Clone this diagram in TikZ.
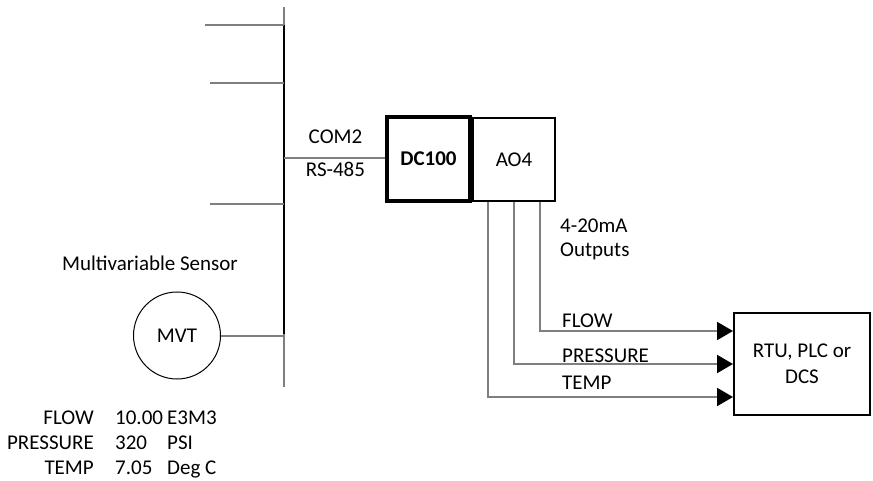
\documentclass[tikz,border=0pt]{standalone}
\usepackage{fontspec}
\setmainfont{Carlito}
\usetikzlibrary{arrows.meta}
\definecolor{wiregray}{HTML}{7F7F7F}
\tikzset{
  wire/.style={wiregray, line width=2pt},
  bus/.style={black, line width=2.5pt},
  box/.style={draw, line width=2pt, inner sep=0pt, align=center},
  lbl/.style={inner sep=0pt},
  sig/.style={wire, -{Triangle[length=16pt, width=18pt, color=black]}}
}
\begin{document}
\begin{tikzpicture}[x=1pt, y=-1pt, font=\fontsize{21}{26}\selectfont]
  \useasboundingbox (0,0) rectangle (873,481);
  \coordinate (bustop) at (284,7);
  \coordinate (busup) at (284,25);
  \coordinate (busdn) at (284,334);
  \coordinate (busbot) at (284,387);
  \coordinate (br1) at (205,25);
  \coordinate (br2) at (210,83);
  \coordinate (br3) at (210,204);
  \coordinate (comtap) at (284,158);
  \coordinate (tapF) at (540,331);
  \coordinate (tapP) at (514,364);
  \coordinate (tapT) at (488,397);
  \node[box, minimum width=82pt, minimum height=83pt] (ao) at (514,160) {AO4};
  \node[box, line width=4pt, minimum width=83pt, minimum height=84pt] (dc) at (428.5,159) {\bfseries DC100};
  \node[draw, circle, line width=1pt, minimum size=87pt, inner sep=0pt] (mvt) at (177,335.5) {MVT};
  \node[box, minimum width=136pt, minimum height=102pt] (rtu) at (802,364) {RTU, PLC or\\DCS};
  \draw[wire] (bustop) -- (busbot);
  \draw[bus] (busup) -- (busdn);
  \foreach \b in {br1,br2,br3} \draw[wire] (\b) -- (\b -| bustop);
  \draw[wire] (comtap) -- (comtap -| dc.west);
  \draw[wire] (mvt.east) -- (mvt.east -| bustop);
  \foreach \t in {tapF,tapP,tapT} \draw[sig] (ao.south -| \t) |- (rtu.west |- \t);
  \node[lbl, anchor=base] (com) at (335.5,144) {COM2};
  \node[lbl, anchor=base] (rs) at (335.5,177) {RS-485};
  \node[lbl, anchor=base west] (ma) at (560,233) {4-20mA};
  \node[lbl, anchor=base west] (mb) at (560,257) {Outputs};
  \node[lbl, anchor=base west] (lf) at (562,327) {FLOW};
  \node[lbl, anchor=base west] (lp) at (562,362) {PRESSURE};
  \node[lbl, anchor=base west] (lt) at (562,389) {TEMP};
  \node[lbl, anchor=base] (sens) at (150,270) {Multivariable Sensor};
  \foreach \n/\v/\u [count=\i] in {FLOW/10.00/E3M3, PRESSURE/320/PSI, TEMP/7.05/Deg C} {
    \node[lbl, anchor=base east] (tn\i) at (94,399+25*\i) {\n};
    \node[lbl, anchor=base west] (tv\i) at (115,399+25*\i) {\v};
    \node[lbl, anchor=base west] (tu\i) at (167,399+25*\i) {\u};
  }
\end{tikzpicture}
\end{document}
